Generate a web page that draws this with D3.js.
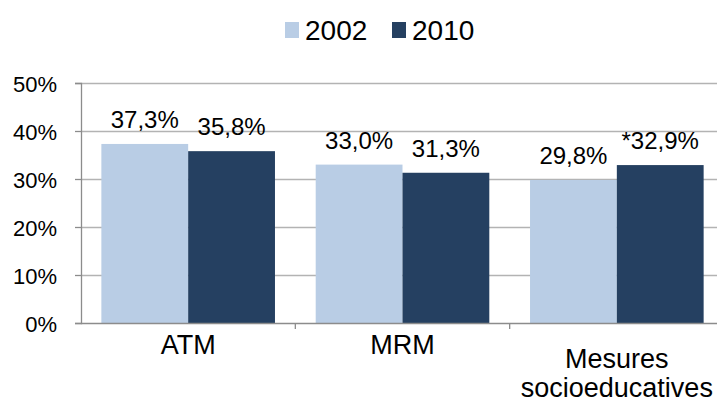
<!DOCTYPE html>
<html>
<head>
<meta charset="utf-8">
<script src="https://cdn.jsdelivr.net/npm/d3@7"></script>
<style>
  html, body { margin: 0; padding: 0; background: #ffffff; overflow: hidden; }
  #chart text { font-family: "Liberation Sans", Arial, sans-serif; fill: #000000; }
  #chart .tick text { font-size: 22px; }
  #chart .bar-label { font-size: 24px; }
  #chart .cat-label { font-size: 27px; }
  #chart .legend-label { font-size: 28px; }
</style>
</head>
<body>
<div id="chart"></div>
<script>
(function () {

  /* ── data ── */
  const categories = ["ATM", "MRM", "Mesures socioeducatives"];
  const series = ["2002", "2010"];
  const values2002 = [37.3, 33.0, 29.8];
  const values2010 = [35.8, 31.3, 32.9];
  const labels2002 = ["37,3%", "33,0%", "29,8%"];
  const labels2010 = ["35,8%", "31,3%", "*32,9%"];
  const yTicks = [0, 10, 20, 30, 40, 50];

  const colors = { "2002": "#b9cde5", "2010": "#254061" };

  const W = 717, H = 402;
  const plot = { left: 81, right: 724, top: 83, bottom: 323 };

  const svg = d3.select("#chart").append("svg")
    .attr("width", W)
    .attr("height", H);

  const x0 = d3.scaleBand()
    .domain(categories)
    .range([plot.left, plot.right])
    .paddingInner(0.19)
    .paddingOuter(0.095);

  const x1 = d3.scaleBand()
    .domain(series)
    .range([0, x0.bandwidth()]);

  const y = d3.scaleLinear()
    .domain([0, 50])
    .range([plot.bottom, plot.top]);

  // gridlines
  svg.append("g")
    .selectAll("line")
    .data(yTicks.filter(d => d > 0))
    .join("line")
      .attr("x1", plot.left)
      .attr("x2", W)
      .attr("y1", d => Math.round(y(d)) + 0.5)
      .attr("y2", d => Math.round(y(d)) + 0.5)
      .attr("stroke", "#b3b3b3")
      .attr("stroke-width", 1.3);

  // bars
  const rows = categories.map((c, i) => ({
    cat: c,
    vals: [
      { key: "2002", v: values2002[i], label: labels2002[i] },
      { key: "2010", v: values2010[i], label: labels2010[i] }
    ]
  }));

  const groups = svg.append("g")
    .selectAll("g")
    .data(rows)
    .join("g")
      .attr("transform", d => `translate(${x0(d.cat)},0)`);

  groups.selectAll("rect")
    .data(d => d.vals)
    .join("rect")
      .attr("x", d => x1(d.key))
      .attr("y", d => y(d.v))
      .attr("width", x1.bandwidth())
      .attr("height", d => y(0) - y(d.v))
      .attr("fill", d => colors[d.key]);

  groups.selectAll(".bar-label")
    .data(d => d.vals)
    .join("text")
      .attr("class", "bar-label")
      .attr("x", d => x1(d.key) + x1.bandwidth() / 2)
      .attr("y", d => y(d.v) - 16)
      .attr("text-anchor", "middle")
      .text(d => d.label);

  // y axis
  const yAxis = d3.axisLeft(y)
    .tickValues(yTicks)
    .tickFormat(d => d + "%")
    .tickSize(6)
    .tickPadding(18);

  svg.append("g")
    .attr("transform", `translate(${plot.left},0)`)
    .call(yAxis)
    .call(g => g.select(".domain").attr("stroke", "#8c8c8c").attr("stroke-width", 1.3))
    .call(g => g.selectAll(".tick line").attr("stroke", "#8c8c8c").attr("stroke-width", 1.3))
    .call(g => g.selectAll(".tick text").attr("dy", "0.38em"));

  // x axis line + ticks at category boundaries
  svg.append("line")
    .attr("x1", plot.left)
    .attr("x2", W)
    .attr("y1", plot.bottom + 0.5)
    .attr("y2", plot.bottom + 0.5)
    .attr("stroke", "#8c8c8c")
    .attr("stroke-width", 1.3);

  svg.append("g")
    .selectAll("line")
    .data(categories.slice(1))
    .join("line")
      .attr("x1", d => x0(d) - x0.step() * x0.paddingInner() / 2)
      .attr("x2", d => x0(d) - x0.step() * x0.paddingInner() / 2)
      .attr("y1", plot.bottom)
      .attr("y2", plot.bottom + 6)
      .attr("stroke", "#8c8c8c")
      .attr("stroke-width", 1.3);

  // category labels (wrapped)
  const catLines = {
    "ATM": ["ATM"],
    "MRM": ["MRM"],
    "Mesures socioeducatives": ["Mesures", "socioeducatives"]
  };
  svg.append("g")
    .selectAll("text")
    .data(categories)
    .join("text")
      .attr("class", "cat-label")
      .attr("text-anchor", "middle")
      .attr("x", d => x0(d) + x0.bandwidth() / 2)
      .attr("y", d => catLines[d].length > 1 ? 368 : 354)
      .each(function (d) {
        const t = d3.select(this);
        catLines[d].forEach((line, i) => {
          t.append("tspan")
            .attr("x", x0(d) + x0.bandwidth() / 2)
            .attr("dy", i === 0 ? 0 : 29)
            .text(line);
        });
      });

  // legend
  const legend = svg.append("g");
  const legendItems = [
    { key: "2002", x: 285 },
    { key: "2010", x: 392 }
  ];
  legend.selectAll("rect")
    .data(legendItems)
    .join("rect")
      .attr("x", d => d.x)
      .attr("y", 22)
      .attr("width", 14)
      .attr("height", 16)
      .attr("fill", d => colors[d.key]);
  legend.selectAll("text")
    .data(legendItems)
    .join("text")
      .attr("class", "legend-label")
      .attr("x", d => d.x + 20)
      .attr("y", 40)
      .text(d => d.key);

})();
</script>
</body>
</html>
